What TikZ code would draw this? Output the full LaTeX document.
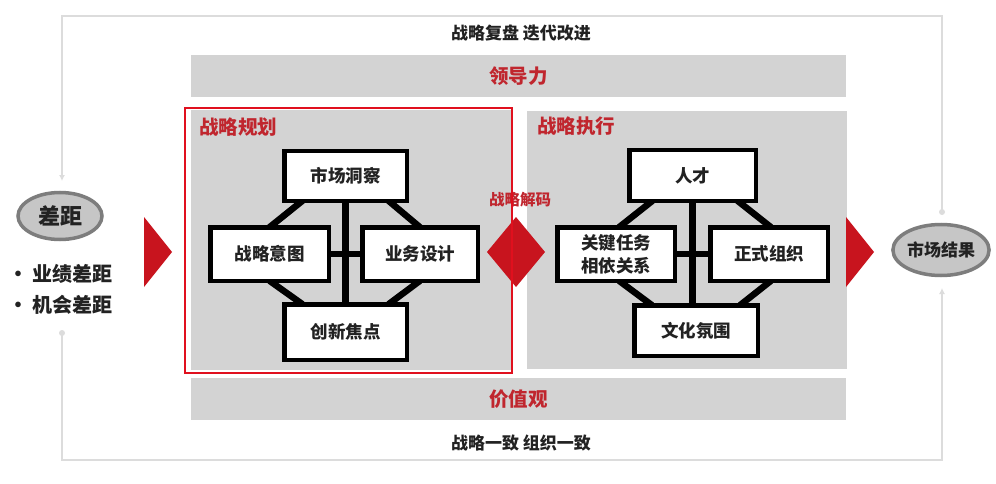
\documentclass[tikz,border=0pt]{standalone}
\usepackage{fontspec}
\setmainfont{Noto Sans CJK SC}
\usetikzlibrary{arrows.meta,calc,shapes.geometric}
\definecolor{panelgray}{HTML}{D3D3D3}
\definecolor{loopgray}{HTML}{DCDCDC}
\definecolor{redfill}{HTML}{C8141E}
\definecolor{redtxt}{HTML}{C0262E}
\definecolor{redline}{HTML}{E0101E}
\definecolor{txt}{HTML}{222222}
\definecolor{ringgray}{HTML}{7D7D7D}
\definecolor{ellfill}{HTML}{C6C6C6}
\pgfdeclarelayer{bgzero}
\pgfdeclarelayer{bgone}
\pgfsetlayers{bgzero,bgone,main}
\begin{document}
\begin{tikzpicture}[x=1pt,y=-1pt,
  box/.style={draw=black,fill=white,line width=4.5pt,inner sep=0pt,outer sep=0pt,align=center,text=txt,font=\fontsize{17.5pt}{22pt}\selectfont\bfseries},
  link/.style={line width=6.5pt,draw=black},
  panel/.style={fill=panelgray,draw=none},
  redlabel/.style={text=redtxt,font=\fontsize{19.5pt}{22pt}\selectfont\bfseries,inner sep=0pt},
  plain/.style={text=txt,font=\fontsize{17pt}{22pt}\selectfont\bfseries,inner sep=0pt},
  ell/.style={ellipse,draw=ringgray,fill=ellfill,line width=3.5pt,inner sep=0pt,outer sep=0pt,text=txt,font=\fontsize{17pt}{20pt}\selectfont\bfseries},
  loop/.style={draw=loopgray,line width=1.5pt},
  looparrow/.style={loop,-{Latex[length=6pt,width=6pt]}},
  loopdot/.style={fill=loopgray,draw=none}
]
\useasboundingbox (0,0) rectangle (996,484);

% bars and panels
\begin{pgfonlayer}{bgzero}
\fill[white] (0,0) rectangle (996,484);
\node[panel,minimum width=655pt,minimum height=42pt,inner sep=0pt] (lead) at (518.5,76) {};
\node[panel,minimum width=655pt,minimum height=42pt,inner sep=0pt] (value) at (518.5,399) {};
\node[panel,minimum width=320pt,minimum height=260pt,inner sep=0pt] (plan) at (351,240) {};
\node[panel,minimum width=320pt,minimum height=258pt,inner sep=0pt] (exec) at (687,240) {};
\end{pgfonlayer}
\node[redlabel] (leadt) at (lead) {领导力};
\node[redlabel] (valuet) at (value) {价值观};
\node[plain] (review) at (521,33) {战略复盘 迭代改进};
\node[plain] (align) at (521,443) {战略一致 组织一致};
\node[redlabel,anchor=west] (plant) at (199,127) {战略规划};
\node[redlabel,anchor=west] (exect) at (537,126) {战略执行};
\node[text=redtxt,font=\fontsize{15.5pt}{17pt}\selectfont\bfseries,inner sep=0pt] (decode) at (520,200) {战略解码};

% left boxes
\node[box,minimum width=122.5pt,minimum height=49.5pt] (mi) at (345.5,176) {市场洞察};
\node[box,minimum width=118.5pt,minimum height=53.5pt] (si) at (269.5,254) {战略意图};
\node[box,minimum width=115.5pt,minimum height=53.5pt] (bd) at (420,254) {业务设计};
\node[box,minimum width=122.5pt,minimum height=55.5pt] (cx) at (345.5,332) {创新焦点};
% right boxes
\node[box,minimum width=126.5pt,minimum height=50.5pt] (rt) at (692.5,175.5) {人才};
\node[box,minimum width=117.5pt,minimum height=53.5pt,font=\fontsize{17.5pt}{23pt}\selectfont\bfseries] (kt) at (616,254) {关键任务\\相依关系};
\node[box,minimum width=117.5pt,minimum height=53.5pt] (fo) at (769,254) {正式组织};
\node[box,minimum width=123.5pt,minimum height=50.5pt] (cu) at (696,330.5) {文化氛围};

\begin{pgfonlayer}{bgone}
\draw[link] (mi.south) -- (cx.north);
\draw[link] (si.east) -- (bd.west);
\draw[link] ($(mi.south)+(-43,0)$) -- (si.north);
\draw[link] ($(mi.south)+(43,0)$) -- (bd.north);
\draw[link] (si.south) -- ($(cx.north)+(-43,0)$);
\draw[link] (bd.south) -- ($(cx.north)+(43,0)$);
\draw[link] (rt.south) -- (rt.south |- cu.north);
\draw[link] (kt.east) -- (fo.west);
\draw[link] ($(rt.south)+(-40,0)$) -- ($(kt.north)+(3,0)$);
\draw[link] ($(rt.south)+(45,0)$) -- ($(fo.north)+(2,0)$);
\draw[link] ($(kt.south)+(3,0)$) -- ($(cu.north)+(-44,0)$);
\draw[link] ($(fo.south)+(2,0)$) -- ($(cu.north)+(44,0)$);
\end{pgfonlayer}

% red arrows
\fill[redfill] (144,217) -- (172,252) -- (144,287) -- cycle;
\fill[redfill] (846,217) -- (874,252) -- (846,287) -- cycle;
\fill[redfill] (487,252) -- (516,217) -- (545,252) -- (516,287) -- cycle;
% red frame
\draw[redline,line width=1.5pt] (plan.south west) ++(-6,3) rectangle ($(plan.north east)+(1,-2)$);

% gap and result
\node[ell,minimum width=84pt,minimum height=47pt,font=\fontsize{22pt}{24pt}\selectfont\bfseries] (gap) at (60,216) {差距};
\node[ell,minimum width=85pt,minimum height=51pt] (res) at (941,250) {市场结果};
\node[plain,anchor=west,font=\fontsize{20pt}{24pt}\selectfont\bfseries] (g1) at (8,274) {• 业绩差距};
\node[plain,anchor=west,font=\fontsize{20pt}{24pt}\selectfont\bfseries] (g2) at (8,305) {• 机会差距};

% feedback loops
\coordinate (rtop) at (942,212);
\coordinate (gaptip) at (62,181);
\coordinate (lbot) at (62,333);
\coordinate (restip) at (942,288);
\draw[looparrow] (rtop) -- (942,16) -- (62,16) -- (gaptip);
\draw[looparrow] (lbot) -- (62,460) -- (942,460) -- (restip);
\fill[loopdot] (rtop) circle (3pt);
\fill[loopdot] (lbot) circle (3pt);
\end{tikzpicture}
\end{document}
